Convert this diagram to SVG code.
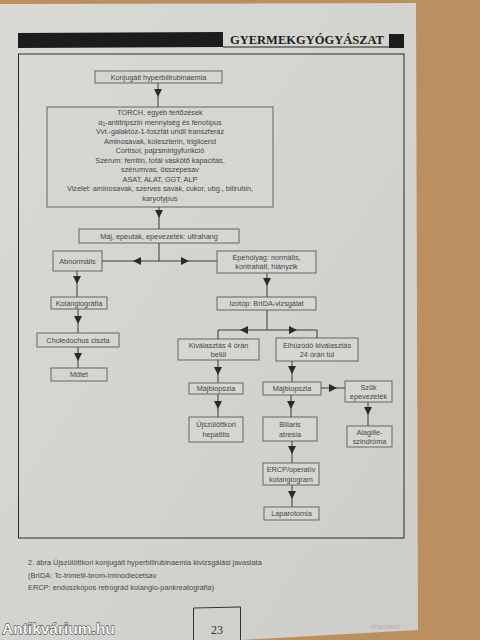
<svg xmlns="http://www.w3.org/2000/svg" width="480" height="640" viewBox="0 0 480 640">
<defs>
<marker id="ah" markerUnits="userSpaceOnUse" markerWidth="9" markerHeight="9" refX="4" refY="4" orient="auto">
<path d="M0,0 L8,4 L0,8 z" fill="#2a2a2a"/>
</marker>
<linearGradient id="pg" x1="0" y1="0" x2="1" y2="1">
<stop offset="0" stop-color="#d9d9d5"/>
<stop offset="1" stop-color="#cdcdc9"/>
</linearGradient>
</defs>
<style>
.box{fill:#d5d5d1;stroke:#5a5a5a;stroke-width:0.9}
.t{font-family:"Liberation Sans",Arial,sans-serif;font-size:7.3px;fill:#474747;text-anchor:middle}
.c{fill:none;stroke:#3a3a3a;stroke-width:1}
.a{fill:none;stroke:#3a3a3a;stroke-width:1;marker-mid:url(#ah)}
.cap{font-family:"Liberation Sans",Arial,sans-serif;font-size:7.4px;fill:#4a4a4a}
</style>
<rect x="0" y="0" width="480" height="640" fill="#bb8f60"/>
<polygon points="0,4 416,3 418,630 240,640 0,640" fill="url(#pg)"/>
<!-- header -->
<path d="M18,33 L223,32 L223,47 L18,48 z" fill="#1c1c1c"/>
<line x1="223" y1="47" x2="389" y2="47" stroke="#222" stroke-width="1"/>
<text x="230" y="44" font-family="'Liberation Serif','Times New Roman',serif" font-weight="bold" font-size="12.5" fill="#1e1e1e">GYERMEKGYÓGYÁSZAT</text>
<rect x="389" y="34" width="15" height="14" fill="#1c1c1c"/>
<!-- frame -->
<rect x="18.5" y="54" width="385.5" height="484" fill="none" stroke="#2a2a2a" stroke-width="1"/>

<g id="connectors">
<polyline class="a" points="158,83 158,93 158,107"/>
<polyline class="a" points="159,207 159,214 159,229"/>
<line class="c" x1="159" y1="243" x2="159" y2="261"/>
<polyline class="a" points="159,261 137,261 102,261"/>
<polyline class="a" points="159,261 185,261 217,261"/>
<polyline class="a" points="77,271 77,280 77,297"/>
<polyline class="a" points="267,273 267,282 267,297"/>
<polyline class="a" points="78,309 78,320 78,333"/>
<polyline class="a" points="78,347 78,357 78,368"/>
<line class="c" x1="267" y1="310" x2="267" y2="330"/>
<polyline class="a" points="267,330 244,330 218,330"/>
<polyline class="a" points="267,330 293,330 317,330"/>
<line class="c" x1="218" y1="330" x2="218" y2="339"/>
<line class="c" x1="317" y1="330" x2="317" y2="338"/>
<polyline class="a" points="218,360 218,371 218,383"/>
<polyline class="a" points="292,361 292,370 292,382"/>
<polyline class="a" points="218,394 218,405 218,417"/>
<polyline class="a" points="291,395 291,405 291,417"/>
<polyline class="a" points="321,388 333,388 345,388"/>
<polyline class="a" points="368,402 368,411 368,426"/>
<polyline class="a" points="292,441 292,450 292,463"/>
<polyline class="a" points="292,485 292,495 292,507"/>
</g>

<g id="n1"><rect class="box" x="95" y="71" width="127" height="12"/><text class="t" x="158.5" y="79.5">Konjugált hyperbilirubinaemia</text></g>
<g id="n2"><rect class="box" x="47" y="107" width="226" height="100"/>
<text class="t" x="160" y="114.5">TORCH, egyéb fertőzések</text>
<text class="t" x="160" y="124.5">α<tspan font-size="5" dy="1.5">1</tspan><tspan dy="-1.5">-antitripszin mennyiség és fenotípus</tspan></text>
<text class="t" x="160" y="134">Vvt.-galaktóz-1-foszfát uridil transzferáz</text>
<text class="t" x="160" y="143.5">Aminosavak, koleszterin, triglicerid</text>
<text class="t" x="160" y="153">Cortisol, pajzsmirigyfunkció</text>
<text class="t" x="160" y="162.5">Szérum: ferritin, totál vaskötő kapacitás,</text>
<text class="t" x="160" y="172">szérumvas, összepesav</text>
<text class="t" x="160" y="181.5">ASAT, ALAT, GGT, ALP</text>
<text class="t" x="160" y="191">Vizelet: aminosavak, szerves savak, cukor, ubg., bilirubin,</text>
<text class="t" x="160" y="200.5">karyotypus</text>
</g>
<g id="n3"><rect class="box" x="79" y="229" width="160" height="14"/><text class="t" x="159" y="238.5">Máj, epeutak, epevezeték: ultrahang</text></g>
<g id="n4"><rect class="box" x="53" y="251" width="49" height="20"/><text class="t" x="77.5" y="263.5">Abnormális</text></g>
<g id="n5"><rect class="box" x="217" y="251" width="99" height="22"/><text class="t" x="266.5" y="260">Epehólyag: normális,</text><text class="t" x="266.5" y="269">kontrahált, hiányzik</text></g>
<g id="n6"><rect class="box" x="51" y="297" width="56" height="12"/><text class="t" x="79" y="305.5">Kolangiográfia</text></g>
<g id="n7"><rect class="box" x="217" y="297" width="99" height="13"/><text class="t" x="266.5" y="306">Izotóp: BrIDA-vizsgálat</text></g>
<g id="n8"><rect class="box" x="37" y="333" width="82" height="14"/><text class="t" x="78" y="342.5">Choledochus ciszta</text></g>
<g id="n9"><rect class="box" x="178" y="339" width="81" height="21"/><text class="t" x="218.5" y="348">Kiválasztás 4 órán</text><text class="t" x="218.5" y="357">belül</text></g>
<g id="n10"><rect class="box" x="276" y="338" width="82" height="23"/><text class="t" x="317" y="347.5">Elhúzódó kiválasztás</text><text class="t" x="317" y="357">24 órán túl</text></g>
<g id="n11"><rect class="box" x="51" y="368" width="56" height="13"/><text class="t" x="79" y="377">Műtét</text></g>
<g id="n12"><rect class="box" x="189" y="383" width="54" height="11"/><text class="t" x="216" y="391.3">Májbiopszia</text></g>
<g id="n13"><rect class="box" x="263" y="382" width="58" height="13"/><text class="t" x="292" y="391">Májbiopszia</text></g>
<g id="n14"><rect class="box" x="345" y="381" width="47" height="21"/><text class="t" x="368.5" y="389.5">Szűk</text><text class="t" x="368.5" y="398.5">epevezeték</text></g>
<g id="n15"><rect class="box" x="189" y="417" width="54" height="25"/><text class="t" x="216" y="427">Újszülöttkori</text><text class="t" x="216" y="437">hepatitis</text></g>
<g id="n16"><rect class="box" x="263" y="417" width="54" height="24"/><text class="t" x="290" y="427">Biliaris</text><text class="t" x="290" y="436.5">atresia</text></g>
<g id="n17"><rect class="box" x="347" y="426" width="45" height="21"/><text class="t" x="369.5" y="434.5">Alagille-</text><text class="t" x="369.5" y="443.5">szindróma</text></g>
<g id="n18"><rect class="box" x="263" y="463" width="56" height="22"/><text class="t" x="291" y="472">ERCP/operatív</text><text class="t" x="291" y="481.5">kolangiogram</text></g>
<g id="n19"><rect class="box" x="264" y="507" width="55" height="13"/><text class="t" x="291.5" y="516">Laparotomia</text></g>

<!-- caption -->
<text class="cap" x="28" y="565">2. ábra Újszülöttkori konjugált hyperbilirubinaemia kivizsgálási javaslata</text>
<text class="cap" x="28" y="578">(BrIDA: Tc-trimetil-brom-iminodiecetsav</text>
<text class="cap" x="28" y="590">ERCP: endoszkópos retrográd kolangio-pankreatográfia)</text>
<!-- page number -->
<path d="M193.5,640 L193.5,608 L240.5,607 L240.5,640" fill="none" stroke="#333" stroke-width="1"/>
<text x="217" y="634" font-family="'Liberation Serif','Times New Roman',serif" font-size="12" fill="#333" text-anchor="middle">23</text>
<text x="385" y="629" font-family="'Liberation Sans',Arial,sans-serif" font-size="5.5" fill="#a8a8a4" text-anchor="middle">ÚTMUTATÓ</text>
<text x="2" y="634" font-family="'Liberation Sans',Arial,sans-serif" font-weight="bold" font-size="15.5" fill="#f4f4f4" stroke="#2a2a2a" stroke-width="0.9" paint-order="stroke">Antikvárium.hu</text>
</svg>
